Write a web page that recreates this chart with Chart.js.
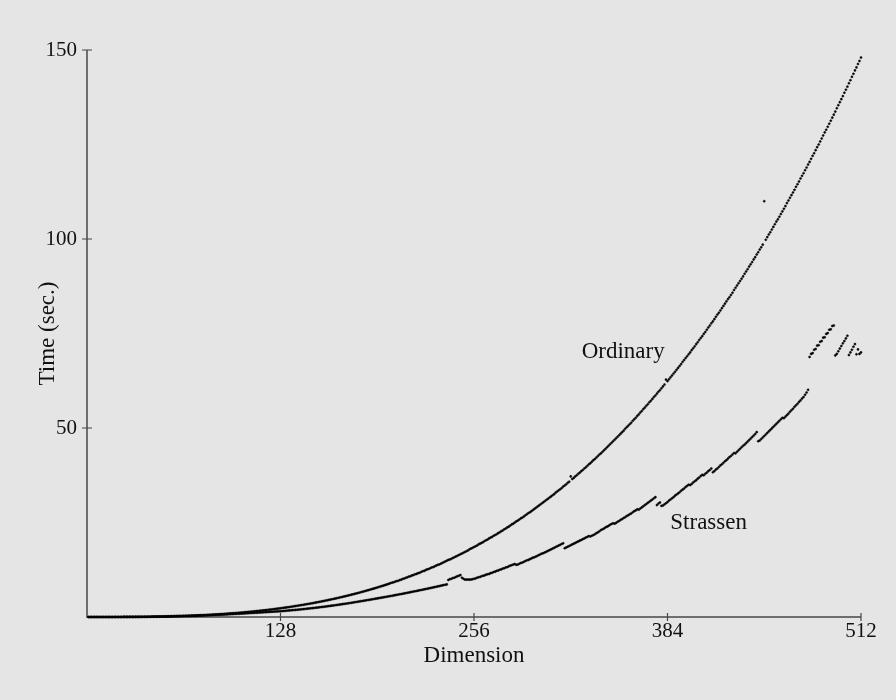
<!DOCTYPE html>
<html>
<head>
<meta charset="utf-8">
<script src="https://cdn.jsdelivr.net/npm/chart.js@4.4.1/dist/chart.umd.min.js"></script>
<style>
  html, body { margin: 0; padding: 0; background: #e5e5e5; }
  #wrap { width: 896px; height: 700px; }
</style>
</head>
<body>
<div id="wrap"><canvas id="chart" width="896" height="700"></canvas></div>
<script>
// Matrix dimension axis and time axis ticks
const dimensionTicks = [128, 256, 384, 512];
const timeTicks = [50, 100, 150];
const dimensionMax = 512;
const timeMax = 150;

// Seconds for dimensions 1..512, ordinary multiplication
const ordinaryTimes = [
  0,0,0,0,0,0,0,0,0,0,
  0,0,0,0,0,0,0,0.01,0.01,0.01,
  0.01,0.01,0.01,0.02,0.02,0.02,0.02,0.02,0.03,0.03,
  0.03,0.04,0.04,0.04,0.05,0.05,0.06,0.06,0.07,0.07,
  0.08,0.08,0.09,0.09,0.10,0.11,0.11,0.12,0.13,0.14,
  0.15,0.16,0.16,0.17,0.18,0.19,0.20,0.22,0.23,0.24,
  0.25,0.26,0.28,0.29,0.30,0.32,0.33,0.35,0.36,0.38,
  0.39,0.41,0.43,0.45,0.47,0.48,0.50,0.52,0.54,0.56,
  0.59,0.61,0.63,0.65,0.68,0.70,0.73,0.75,0.78,0.80,
  0.83,0.86,0.89,0.92,0.95,0.98,1.01,1.04,1.07,1.10,
  1.14,1.17,1.20,1.24,1.28,1.31,1.35,1.39,1.43,1.47,
  1.51,1.55,1.59,1.63,1.68,1.72,1.77,1.81,1.86,1.91,
  1.95,2.00,2.05,2.10,2.15,2.21,2.26,2.31,2.37,2.42,
  2.48,2.54,2.59,2.65,2.71,2.77,2.84,2.90,2.96,3.03,
  3.09,3.16,3.22,3.29,3.36,3.43,3.50,3.57,3.65,3.72,
  3.80,3.87,3.95,4.03,4.11,4.19,4.27,4.35,4.43,4.52,
  4.60,4.69,4.78,4.86,4.95,5.04,5.14,5.23,5.32,5.42,
  5.51,5.61,5.71,5.81,5.91,6.01,6.11,6.22,6.32,6.43,
  6.54,6.65,6.76,6.87,6.98,7.10,7.21,7.33,7.44,7.56,
  7.68,7.80,7.93,8.05,8.18,8.30,8.43,8.56,8.69,8.82,
  9.0,9.1,9.2,9.4,9.5,9.6,9.8,9.9,10.1,10.2,
  10.4,10.5,10.7,10.8,11.0,11.1,11.3,11.4,11.6,11.7,
  11.9,12.1,12.2,12.4,12.6,12.7,12.9,13.1,13.2,13.4,
  13.6,13.8,13.9,14.1,14.3,14.5,14.7,14.9,15.1,15.2,
  15.4,15.6,15.8,16.0,16.2,16.4,16.6,16.8,17.0,17.2,
  17.4,17.6,17.9,18.1,18.3,18.5,18.7,18.9,19.2,19.4,
  19.6,19.8,20.1,20.3,20.5,20.8,21.0,21.2,21.5,21.7,
  21.9,22.2,22.4,22.7,22.9,23.2,23.4,23.7,23.9,24.2,
  24.5,24.7,25.0,25.3,25.5,25.8,26.1,26.3,26.6,26.9,
  27.2,27.5,27.7,28.0,28.3,28.6,28.9,29.2,29.5,29.8,
  30.1,30.4,30.7,31.0,31.3,31.6,31.9,32.2,32.5,32.9,
  33.2,33.5,33.8,34.1,34.5,34.8,35.1,35.5,35.8,37.2,
  36.5,36.8,37.2,37.5,37.9,38.2,38.6,38.9,39.3,39.6,
  40.0,40.4,40.7,41.1,41.5,41.8,42.2,42.6,43.0,43.3,
  43.7,44.1,44.5,44.9,45.3,45.7,46.1,46.5,46.9,47.3,
  47.7,48.1,48.5,48.9,49.3,49.8,50.2,50.6,51.0,51.4,
  51.9,52.3,52.7,53.2,53.6,54.1,54.5,55.0,55.4,55.9,
  56.3,56.8,57.2,57.7,58.2,58.6,59.1,59.6,60.0,60.5,
  61.0,61.5,62.8,62.4,62.9,63.4,63.9,64.4,64.9,65.4,
  65.9,66.4,66.9,67.5,68.0,68.5,69.0,69.5,70.0,70.6,
  71.1,71.6,72.2,72.7,73.3,73.8,74.3,74.9,75.4,76.0,
  76.6,77.1,77.7,78.2,78.8,79.4,80.0,80.5,81.1,81.7,
  82.3,82.9,83.5,84.1,84.6,85.2,85.8,86.5,87.1,87.7,
  88.3,88.9,89.5,90.1,90.8,91.4,92.0,92.7,93.3,93.9,
  94.6,95.2,95.9,96.5,97.2,97.8,98.5,110.0,99.8,100.5,
  101.2,101.8,102.5,103.2,103.9,104.6,105.2,105.9,106.6,107.3,
  108.0,108.7,109.5,110.2,110.9,111.6,112.3,113.0,113.8,114.5,
  115.2,116.0,116.7,117.4,118.2,118.9,119.7,120.4,121.2,122.0,
  122.7,123.5,124.3,125.0,125.8,126.6,127.4,128.2,128.9,129.7,
  130.5,131.3,132.1,132.9,133.7,134.6,135.4,136.2,137.0,137.8,
  138.7,139.5,140.3,141.2,142.0,142.9,143.7,144.6,145.4,146.3,
  147.1,148.0
];

// Seconds for dimensions 1..512, Strassen's algorithm
const strassenTimes = [
  0,0,0,0,0,0,0,0,0,0,
  0,0,0,0,0,0,0,0.01,0.01,0.01,
  0.01,0.01,0.01,0.02,0.02,0.02,0.02,0.02,0.03,0.03,
  0.03,0.04,0.04,0.04,0.05,0.05,0.05,0.06,0.06,0.07,
  0.08,0.08,0.08,0.09,0.09,0.10,0.11,0.11,0.12,0.13,
  0.13,0.14,0.15,0.15,0.16,0.17,0.18,0.19,0.20,0.21,
  0.22,0.23,0.24,0.25,0.26,0.28,0.29,0.30,0.31,0.32,
  0.34,0.35,0.36,0.38,0.39,0.40,0.42,0.43,0.45,0.46,
  0.48,0.50,0.52,0.53,0.55,0.57,0.59,0.60,0.62,0.64,
  0.66,0.68,0.70,0.73,0.75,0.77,0.80,0.82,0.84,0.86,
  0.88,0.90,0.92,0.95,0.97,0.99,1.02,1.04,1.06,1.08,
  1.11,1.13,1.15,1.18,1.20,1.23,1.25,1.28,1.30,1.33,
  1.35,1.38,1.40,1.43,1.45,1.48,1.50,1.53,1.56,1.60,
  1.63,1.67,1.70,1.74,1.77,1.81,1.85,1.88,1.92,1.96,
  2.00,2.04,2.08,2.12,2.17,2.21,2.25,2.30,2.34,2.39,
  2.44,2.48,2.53,2.58,2.63,2.68,2.73,2.78,2.83,2.89,
  2.94,3.00,3.05,3.11,3.16,3.22,3.28,3.34,3.40,3.46,
  3.52,3.58,3.64,3.70,3.77,3.83,3.90,3.96,4.03,4.10,
  4.16,4.23,4.30,4.37,4.44,4.51,4.57,4.64,4.71,4.78,
  4.85,4.92,4.99,5.06,5.13,5.20,5.27,5.34,5.42,5.49,
  5.56,5.64,5.71,5.79,5.86,5.94,6.02,6.09,6.17,6.25,
  6.33,6.41,6.49,6.57,6.65,6.73,6.81,6.89,6.97,7.06,
  7.14,7.22,7.31,7.39,7.48,7.56,7.65,7.74,7.83,7.91,
  8.00,8.09,8.18,8.27,8.36,8.45,8.54,8.63,9.8,10.0,
  10.1,10.3,10.4,10.6,10.8,10.9,11.1,10.4,10.1,9.9,
  9.9,9.9,9.9,9.9,10.0,10.1,10.2,10.4,10.5,10.6,
  10.8,10.9,11.0,11.2,11.3,11.4,11.6,11.7,11.9,12.0,
  12.2,12.3,12.5,12.6,12.8,12.9,13.1,13.2,13.4,13.6,
  13.7,13.9,14.0,13.8,13.9,14.1,14.3,14.4,14.6,14.8,
  15.0,15.1,15.3,15.5,15.7,15.8,16.0,16.2,16.4,16.6,
  16.8,16.9,17.1,17.3,17.5,17.7,17.9,18.1,18.3,18.5,
  18.7,18.9,19.1,19.3,19.5,18.2,18.4,18.6,18.8,19.0,
  19.2,19.4,19.6,19.8,20.0,20.2,20.4,20.6,20.8,21.0,
  21.2,21.4,21.3,21.5,21.7,21.9,22.2,22.4,22.7,23.0,
  23.2,23.4,23.7,23.9,24.1,24.4,24.6,24.8,24.7,24.9,
  25.2,25.4,25.7,25.9,26.2,26.4,26.7,26.9,27.2,27.4,
  27.7,28.0,28.2,28.5,28.4,28.7,29.0,29.3,29.6,29.9,
  30.2,30.5,30.8,31.1,31.4,31.7,29.6,30.0,30.3,29.4,
  29.5,29.8,30.1,30.4,30.8,31.1,31.4,31.7,32.1,32.4,
  32.7,33.0,33.4,33.7,34.0,34.4,34.7,35.0,34.9,35.2,
  35.6,35.9,36.2,36.6,36.9,37.3,37.6,37.5,37.9,38.2,
  38.6,38.9,39.3,38.3,38.6,39.0,39.3,39.7,40.1,40.4,
  40.8,41.2,41.5,41.9,42.3,42.6,43.0,43.4,43.3,43.7,
  44.1,44.5,44.9,45.3,45.6,46.0,46.4,46.8,47.2,47.6,
  48.0,48.4,48.9,46.5,46.7,47.1,47.5,47.9,48.3,48.7,
  49.1,49.5,49.9,50.3,50.7,51.1,51.5,51.9,52.3,52.7,
  52.6,53.0,53.4,53.8,54.3,54.7,55.1,55.6,56.0,56.4,
  56.9,57.3,57.8,58.2,58.8,59.4,60.1,68.8,69.6,69.8,
  70.7,70.9,71.8,71.9,72.8,73.0,73.9,74.0,74.9,75.1,
  76.0,76.1,77.0,77.1,69.2,69.6,70.3,71.0,71.7,72.4,
  73.0,73.7,74.4,69.3,70.0,70.7,71.5,72.2,69.5,70.8,
  69.6,70.0
];

const seriesNames = ['Ordinary', 'Strassen'];

const serif = "'Liberation Serif', 'DejaVu Serif', serif";
const ink = '#111111';
const axisInk = '#474747';

// dimension n is the (n-1)th entry of each list
const toPoints = times => times.map((t, i) => ({ x: i + 1, y: t }));

// Axis lines with short ticks crossing them
const axisFrame = {
  id: 'axisFrame',
  beforeDatasetsDraw(chart) {
    const { ctx, scales: { x, y } } = chart;
    const x0 = x.getPixelForValue(0), x1 = x.getPixelForValue(dimensionMax);
    const y0 = y.getPixelForValue(0), y1 = y.getPixelForValue(timeMax);
    ctx.save();
    ctx.strokeStyle = axisInk;
    ctx.lineWidth = 1.5;
    ctx.beginPath();
    ctx.moveTo(x0, y1); ctx.lineTo(x0, y0); ctx.lineTo(x1, y0);
    ctx.stroke();
    ctx.lineWidth = 1.2;
    ctx.beginPath();
    dimensionTicks.forEach(v => {
      const p = x.getPixelForValue(v);
      ctx.moveTo(p, y0 - 4); ctx.lineTo(p, y0 + 4);
    });
    timeTicks.forEach(v => {
      const p = y.getPixelForValue(v);
      ctx.moveTo(x0 - 5, p); ctx.lineTo(x0 + 5, p);
    });
    ctx.stroke();
    ctx.restore();
  }
};

// Curve names written beside each series
const curveNames = {
  id: 'curveNames',
  afterDatasetsDraw(chart, args, opts) {
    const { ctx, scales: { x, y } } = chart;
    ctx.save();
    ctx.font = opts.font;
    ctx.fillStyle = ink;
    ctx.textAlign = 'center';
    ctx.textBaseline = 'middle';
    opts.items.forEach(it => {
      ctx.fillText(it.text, x.getPixelForValue(it.at[0]), y.getPixelForValue(it.at[1]));
    });
    ctx.restore();
  }
};

const dotStyle = {
  showLine: false,
  pointRadius: 1.05,
  pointBorderWidth: 0.5,
  pointBackgroundColor: '#000',
  pointBorderColor: '#000',
  pointHoverRadius: 1.05,
  clip: false
};

new Chart(document.getElementById('chart'), {
  type: 'scatter',
  data: {
    datasets: [
      Object.assign({ label: seriesNames[0], data: toPoints(ordinaryTimes) }, dotStyle),
      Object.assign({ label: seriesNames[1], data: toPoints(strassenTimes) }, dotStyle)
    ]
  },
  options: {
    responsive: false,
    animation: false,
    events: [],
    layout: { padding: { top: 50, right: 35, left: 0, bottom: 0 } },
    plugins: {
      legend: { display: false },
      tooltip: { enabled: false },
      curveNames: {
        font: "23px " + serif,
        items: [
          { text: seriesNames[0], at: [354.7, 70.1] },
          { text: seriesNames[1], at: [411.2, 24.9] }
        ]
      }
    },
    scales: {
      x: {
        type: 'linear',
        min: 0,
        max: dimensionMax,
        grid: { display: false, drawTicks: false },
        border: { display: false },
        afterBuildTicks: s => { s.ticks = dimensionTicks.map(v => ({ value: v })); },
        afterFit: s => { s.height = 83; },
        ticks: {
          padding: 2,
          color: ink,
          font: { family: serif, size: 21 },
          maxRotation: 0,
          autoSkip: false
        },
        title: {
          display: true,
          text: 'Dimension',
          color: ink,
          font: { family: serif, size: 23 },
          padding: { top: 30, bottom: 30 }
        }
      },
      y: {
        type: 'linear',
        min: 0,
        max: timeMax,
        grid: { display: false, drawTicks: false },
        border: { display: false },
        afterBuildTicks: s => { s.ticks = timeTicks.map(v => ({ value: v })); },
        afterFit: s => { s.width = 87; },
        ticks: {
          padding: 10,
          color: ink,
          font: { family: serif, size: 21 },
          autoSkip: false
        },
        title: {
          display: true,
          text: 'Time (sec.)',
          color: ink,
          font: { family: serif, size: 23 },
          padding: { top: 34, bottom: 0 }
        }
      }
    }
  },
  plugins: [axisFrame, curveNames]
});
</script>
</body>
</html>
